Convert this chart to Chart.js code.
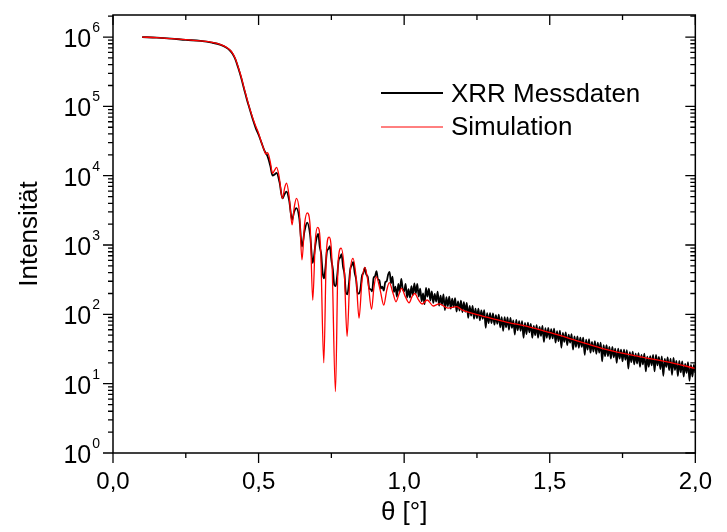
<!DOCTYPE html>
<html>
<head>
<meta charset="utf-8">
<script src="https://cdn.jsdelivr.net/npm/chart.js@4.4.1/dist/chart.umd.min.js"></script>
<style>
  html, body { margin: 0; padding: 0; background: #fff; }
  #wrap { width: 727px; height: 532px; }
</style>
</head>
<body>
<div id="wrap"><canvas id="xrrChart" width="727" height="532"></canvas></div>
<script>
// Simulation (red)
const thetaSim = [
  0.10, 0.15, 0.20, 0.25, 0.30, 0.34, 0.37, 0.39, 0.40, 0.41,
  0.42, 0.43, 0.44, 0.45, 0.46, 0.47, 0.48, 0.49, 0.50, 0.51,
  0.52, 0.525, 0.531, 0.540, 0.548, 0.555, 0.562, 0.570, 0.582, 0.590,
  0.596, 0.605, 0.615, 0.623, 0.630, 0.640, 0.649, 0.658, 0.667, 0.677,
  0.686, 0.695, 0.703, 0.713, 0.724, 0.733, 0.742, 0.752, 0.764, 0.773,
  0.783, 0.794, 0.804, 0.814, 0.824, 0.835, 0.845, 0.855, 0.865, 0.876,
  0.888, 0.896, 0.904, 0.918, 0.930, 0.940, 0.949, 0.962, 0.972, 0.982,
  0.991, 1.004, 1.017, 1.027, 1.036, 1.050, 1.062, 1.079, 1.100, 1.120,
  1.151, 1.180, 1.200, 1.247, 1.303, 1.359, 1.415, 1.471, 1.505, 1.584,
  1.696, 1.808, 1.920, 2.000
];
const intensSim = [
  1.0e6, 9.8e5, 9.5e5, 9.2e5, 8.8e5, 8.4e5, 7.8e5, 7.1e5, 6.6e5, 5.9e5,
  4.9e5, 3.7e5, 2.7e5, 1.85e5, 1.3e5, 9.2e4, 6.8e4, 5.2e4, 4.1e4, 3.0e4,
  2.3e4, 2.05e4, 2.15e4, 1.6e4, 1.08e4, 1.2e4, 1.32e4, 1.0e4, 4.7e3, 6.8e3,
  7.8e3, 5.0e3, 1.95e3, 3.6e3, 4.7e3, 3.0e3, 610, 2.0e3, 2.9e3, 1.9e3,
  160, 1.2e3, 1.8e3, 900, 20, 800, 1.3e3, 600, 7.7, 550,
  900, 450, 48, 380, 640, 340, 88, 300, 475, 290,
  118, 240, 350, 220, 136, 220, 286, 200, 152, 195,
  237, 180, 147, 180, 200, 160, 141, 161, 132, 142,
  123, 129, 115, 100, 87, 76, 68, 59, 54, 43,
  31, 24.5, 20, 16.6
];

// XRR Messdaten (black)
const thetaMess = [
  0.10, 0.15, 0.20, 0.25, 0.30, 0.34, 0.37, 0.39, 0.40, 0.41,
  0.42, 0.43, 0.44, 0.45, 0.46, 0.47, 0.48, 0.49, 0.50, 0.51,
  0.52, 0.531, 0.540, 0.548, 0.556, 0.562, 0.572, 0.582, 0.589, 0.596,
  0.605, 0.615, 0.622, 0.630, 0.640, 0.649, 0.658, 0.667, 0.677, 0.686,
  0.695,
  0.700, 0.705, 0.710, 0.715, 0.720, 0.725, 0.730, 0.735, 0.740, 0.745,
  0.750, 0.755, 0.760, 0.765, 0.770, 0.775, 0.780, 0.785, 0.790, 0.795,
  0.800, 0.805, 0.810, 0.815, 0.820, 0.825, 0.830, 0.835, 0.840, 0.845,
  0.850, 0.855, 0.860, 0.865, 0.870, 0.875, 0.880, 0.885, 0.890, 0.895,
  0.900, 0.905, 0.910, 0.915, 0.920, 0.925, 0.930, 0.935, 0.940, 0.945,
  0.950, 0.955, 0.960, 0.965, 0.970, 0.975, 0.980, 0.985, 0.990, 0.995,
  1.000, 1.005, 1.010, 1.015, 1.020, 1.025, 1.030, 1.035, 1.040, 1.045,
  1.050, 1.055, 1.060, 1.065, 1.070, 1.075, 1.080, 1.085, 1.090, 1.095,
  1.100, 1.105, 1.110, 1.115, 1.120, 1.125, 1.130, 1.135, 1.140, 1.145,
  1.150, 1.155, 1.160, 1.165, 1.170, 1.175, 1.180, 1.185, 1.190, 1.195,
  1.200, 1.205, 1.210, 1.215, 1.220, 1.225, 1.230, 1.235, 1.240, 1.245,
  1.250, 1.255, 1.260, 1.265, 1.270, 1.275, 1.280, 1.285, 1.290, 1.295,
  1.300, 1.305, 1.310, 1.315, 1.320, 1.325, 1.330, 1.335, 1.340, 1.345,
  1.350, 1.355, 1.360, 1.365, 1.370, 1.375, 1.380, 1.385, 1.390, 1.395,
  1.400, 1.405, 1.410, 1.415, 1.420, 1.425, 1.430, 1.435, 1.440, 1.445,
  1.450, 1.455, 1.460, 1.465, 1.470, 1.475, 1.480, 1.485, 1.490, 1.495,
  1.500, 1.505, 1.510, 1.515, 1.520, 1.525, 1.530, 1.535, 1.540, 1.545,
  1.550, 1.555, 1.560, 1.565, 1.570, 1.575, 1.580, 1.585, 1.590, 1.595,
  1.600, 1.605, 1.610, 1.615, 1.620, 1.625, 1.630, 1.635, 1.640, 1.645,
  1.650, 1.655, 1.660, 1.665, 1.670, 1.675, 1.680, 1.685, 1.690, 1.695,
  1.700, 1.705, 1.710, 1.715, 1.720, 1.725, 1.730, 1.735, 1.740, 1.745,
  1.750, 1.755, 1.760, 1.765, 1.770, 1.775, 1.780, 1.785, 1.790, 1.795,
  1.800, 1.805, 1.810, 1.815, 1.820, 1.825, 1.830, 1.835, 1.840, 1.845,
  1.850, 1.855, 1.860, 1.865, 1.870, 1.875, 1.880, 1.885, 1.890, 1.895,
  1.900, 1.905, 1.910, 1.915, 1.920, 1.925, 1.930, 1.935, 1.940, 1.945,
  1.950, 1.955, 1.960, 1.965, 1.970, 1.975, 1.980, 1.985, 1.990, 1.995,
  2.000
];
const intensMess = [
  1.0e6, 9.8e5, 9.5e5, 9.1e5, 8.8e5, 8.3e5, 7.7e5, 7.0e5, 6.5e5, 5.8e5,
  4.8e5, 3.6e5, 2.6e5, 1.8e5, 1.25e5, 9.0e4, 6.5e4, 4.9e4, 3.9e4, 3.0e4,
  2.3e4, 1.9e4, 1.4e4, 1.0e4, 1.05e4, 1.1e4, 8.0e3, 4.7e3, 5.4e3, 5.9e3,
  4.4e3, 2.3e3, 3.0e3, 3.4e3, 2.4e3, 950, 1.6e3, 2.1e3, 1.4e3, 550,
  1.0e3,
  1300, 1450, 950, 740, 400, 330, 490, 820, 880, 960,
  610, 450, 265, 255, 360, 600, 660, 740, 490, 380,
  205, 195, 270, 450, 510, 570, 400, 320, 200, 200,
  235, 355, 395, 470, 375, 345, 235, 230, 215, 335,
  355, 420, 320, 310, 235, 250, 220, 290, 300, 375,
  410, 280, 350, 210, 250, 180, 275, 210, 325, 235,
  215, 275, 175, 230, 175, 255, 190, 280, 200, 275,
  180, 235, 155, 200, 140, 240, 180, 235, 158, 215,
  146, 198, 153, 212, 134, 186, 138, 194, 115, 177,
  132, 180, 121, 168, 128, 171, 110, 154, 113, 157,
  108, 150, 109, 146, 89, 132, 96, 132, 86, 121,
  88, 121, 82, 114, 86, 115, 64, 104, 75, 104,
  75, 103, 71, 97, 73, 99, 65, 91, 58, 91,
  65, 90, 60, 89, 64, 82, 51, 83, 59, 80,
  58, 80, 46, 75, 52, 76, 55, 73, 46, 68,
  50, 70, 46, 66, 49, 68, 40, 63, 46, 64,
  44, 61, 45, 62, 39, 57, 41, 58, 33, 54,
  40, 55, 36, 51, 39, 52, 31, 48, 34, 48,
  33, 46, 34, 46, 26, 43, 31, 44, 28, 40,
  29, 41, 27, 39, 28, 39, 21, 36, 25, 36,
  25, 34, 23, 34, 24, 32, 20, 32, 23, 31,
  21, 31, 22, 30.5, 16.5, 28.5, 20.5, 29, 19, 27,
  19.5, 27.5, 17.5, 26, 19, 27, 15, 24.5, 17.5, 25,
  18.4, 26, 15, 26, 18.4, 24.3, 16.2, 24.8, 13, 22.7,
  17.4, 24, 15.7, 23, 13.4, 23.5, 15.7, 21.3, 12.9, 21.3,
  14.6, 21, 12.7, 19.3, 14.3, 20.4, 11, 18.7, 12.7, 18.7,
  14.3
];

// axis ticks
const xMajor = [0, 0.5, 1.0, 1.5, 2.0];
const xMinor = [0.25, 0.75, 1.25, 1.75];
const yDecades = [0, 1, 2, 3, 4, 5, 6];
const yMin = 1;
const yMax = 2.08e6;

const FONT = '"Liberation Sans", Arial, sans-serif';

function toPoints(xs, ys) {
    return xs.map((x, i) => ({ x: x, y: ys[i] }));
}

// frame, Origin-style ticks, 10^n labels and the inset legend
const frameAndLegend = {
    id: 'frameAndLegend',
    afterDatasetsDraw(chart) {
        const { ctx, chartArea: a, scales } = chart;
        const sx = scales.x, sy = scales.y;
        ctx.save();
        ctx.strokeStyle = '#000';
        ctx.lineWidth = 1.5;
        ctx.strokeRect(a.left, a.top, a.right - a.left, a.bottom - a.top);

        ctx.lineWidth = 1.3;
        ctx.beginPath();
        xMajor.forEach(v => {
            const p = sx.getPixelForValue(v);
            ctx.moveTo(p, a.bottom); ctx.lineTo(p, a.bottom + 10);
            ctx.moveTo(p, a.top); ctx.lineTo(p, a.top + 10);
        });
        xMinor.forEach(v => {
            const p = sx.getPixelForValue(v);
            ctx.moveTo(p, a.bottom); ctx.lineTo(p, a.bottom + 5);
            ctx.moveTo(p, a.top); ctx.lineTo(p, a.top + 5);
        });
        yDecades.forEach(d => {
            const base = Math.pow(10, d);
            const p = sy.getPixelForValue(base);
            ctx.moveTo(a.left - 10, p); ctx.lineTo(a.left, p);
            ctx.moveTo(a.right - 10, p); ctx.lineTo(a.right, p);
            for (let m = 2; m <= 9; m++) {
                const v = m * base;
                if (v > yMax) break;
                const q = sy.getPixelForValue(v);
                ctx.moveTo(a.left - 5, q); ctx.lineTo(a.left, q);
                ctx.moveTo(a.right - 5, q); ctx.lineTo(a.right, q);
            }
        });
        ctx.stroke();

        // y labels 10^n
        ctx.fillStyle = '#000';
        ctx.textBaseline = 'alphabetic';
        yDecades.forEach(d => {
            const p = sy.getPixelForValue(Math.pow(10, d));
            ctx.font = '14px ' + FONT;
            const exp = String(d);
            const ew = ctx.measureText(exp).width;
            const right = a.left - 13;
            ctx.textAlign = 'left';
            ctx.fillText(exp, right - ew, p - 5);
            ctx.font = '25px ' + FONT;
            ctx.textAlign = 'right';
            ctx.fillText('10', right - ew - 1, p + 10);
        });

        // legend
        const ds = chart.data.datasets;
        ctx.font = '26px ' + FONT;
        ctx.textAlign = 'left';
        ctx.textBaseline = 'middle';
        ctx.strokeStyle = ds[0].borderColor;
        ctx.lineWidth = 2;
        ctx.beginPath(); ctx.moveTo(381, 93); ctx.lineTo(443, 93); ctx.stroke();
        ctx.fillText(ds[0].label, 451, 95);
        ctx.strokeStyle = ds[1].borderColor;
        ctx.lineWidth = 1;
        ctx.beginPath(); ctx.moveTo(381, 127); ctx.lineTo(443, 127); ctx.stroke();
        ctx.fillText(ds[1].label, 451, 128);
        ctx.restore();
    }
};

const ctx = document.getElementById('xrrChart').getContext('2d');
const chart = new Chart(ctx, {
    type: 'line',
    data: {
        datasets: [{
            label: 'XRR Messdaten',
            data: toPoints(thetaMess, intensMess),
            borderColor: '#000000',
            borderWidth: 1.8,
            cubicInterpolationMode: 'monotone',
            pointRadius: 0,
            order: 1
        }, {
            label: 'Simulation',
            data: toPoints(thetaSim, intensSim),
            borderColor: '#ff0000',
            borderWidth: 1.3,
            cubicInterpolationMode: 'monotone',
            pointRadius: 0,
            order: 0
        }]
    },
    options: {
        responsive: false,
        animation: false,
        layout: { padding: { left: 0, top: 15, right: 20, bottom: 0 } },
        plugins: {
            legend: { display: false },
            tooltip: { enabled: false }
        },
        scales: {
            x: {
                type: 'linear',
                min: 0,
                max: 2,
                grid: { display: false, drawTicks: false },
                border: { display: false },
                afterBuildTicks: s => { s.ticks = xMajor.map(v => ({ value: v })); },
                ticks: {
                    padding: 15,
                    color: '#000',
                    autoSkip: false,
                    maxRotation: 0,
                    font: { family: FONT, size: 24 },
                    callback: v => Number(v).toFixed(1).replace('.', ',')
                },
                title: {
                    display: true,
                    text: 'θ [°]',
                    color: '#000',
                    font: { family: FONT, size: 26 },
                    padding: { top: 0, bottom: 4 }
                },
                afterFit: s => { s.height = 79; }
            },
            y: {
                type: 'logarithmic',
                min: yMin,
                max: yMax,
                grid: { display: false, drawTicks: false },
                border: { display: false },
                ticks: { display: false },
                title: {
                    display: true,
                    text: 'Intensität',
                    color: '#000',
                    font: { family: FONT, size: 26 },
                    padding: { top: 14, bottom: 0 }
                },
                afterFit: s => { s.width = 113; }
            }
        }
    },
    plugins: [frameAndLegend]
});
</script>
</body>
</html>
